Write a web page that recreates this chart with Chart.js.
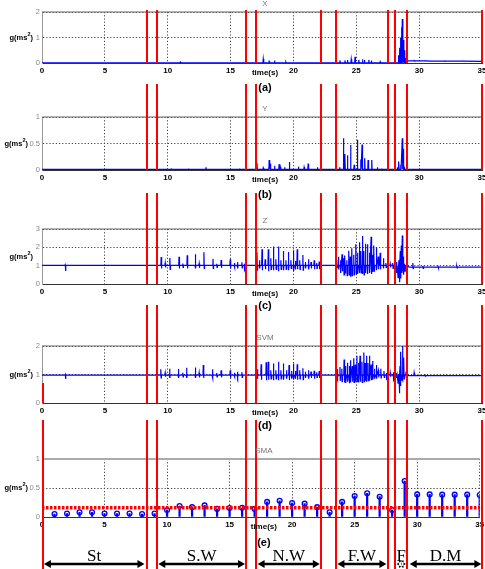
<!DOCTYPE html>
<html>
<head>
<meta charset="utf-8">
<script src="https://cdn.jsdelivr.net/npm/chart.js@4.4.0/dist/chart.umd.min.js"></script>
<style>
  body { margin: 0; background: #fff; width: 485px; height: 569px; overflow: hidden; position: relative; }
  canvas { position: absolute; left: 0; }
  #ov { top: 0; z-index: 10; pointer-events: none; }
</style>
</head>
<body>
<canvas id="pa"></canvas>
<canvas id="pb"></canvas>
<canvas id="pc"></canvas>
<canvas id="pd"></canvas>
<canvas id="pe"></canvas>
<canvas id="ov" width="485" height="569"></canvas>
<script>
// ---- data (time in s) ----

// phase boundaries (red vertical lines)
const boundaries = [8.37, 9.11, 16.26, 17.01, 22.2, 23.4, 27.5, 28.1, 29.0, 35.0]

// phases drawn as arrows under the last panel
const phaseNames = ['St', 'S.W', 'N.W', 'F.W', 'F', 'D.M']
const phaseStart = [0.15, 9.25, 17.15, 23.5, 28.2, 29.25]
const phaseEnd = [8.15, 16.15, 22.1, 27.4, 28.95, 34.95]

// (a) X
const xBase = [[0, 0.01], [28.1, 0.01], [29.0, 0.08], [31.0, 0.07], [35, 0.06]]
const xSpikeT = [11.0, 17.6, 18.07, 18.5, 19.4, 23.7, 24.1, 24.3, 24.6, 24.9, 25.2, 25.5, 25.65, 26.0, 26.2, 26.9,
  28.35, 28.45, 28.52, 28.58, 28.66, 28.74, 28.82, 28.9, 29.6, 30.4, 32.0, 33.5]
const xSpikeV = [0.04, 0.16, 0.06, 0.1, 0.04, 0.1, 0.1, 0.12, 0.15, 0.24, 0.12, 0.15, 0.12, 0.12, 0.1, 0.05,
  0.3, 0.6, 1.0, 1.4, 1.73, 0.9, 0.5, 0.2, 0.1, 0.09, 0.08, 0.08]

// (b) Y
const yBase = [[0, 0.01], [35, 0.01]]
const ySpikeT = [10.28, 11.65, 13.04, 15.7, 17.1, 17.6, 18.07, 18.15, 18.5, 18.86, 18.95, 19.3, 19.68, 20.4, 20.85,
  21.17, 21.9, 23.68, 23.98, 24.1, 24.3, 24.55, 24.83, 25.09, 25.36, 25.46, 25.67, 25.94, 26.23, 26.68, 27.0,
  28.27, 28.38, 28.54, 28.66, 28.72, 28.8]
const ySpikeV = [0.02, 0.03, 0.05, 0.03, 0.13, 0.04, 0.19, 0.12, 0.08, 0.11, 0.06, 0.05, 0.15, 0.06, 0.05,
  0.12, 0.05, 0.05, 0.6, 0.3, 0.28, 0.47, 0.1, 0.57, 0.2, 0.48, 0.22, 0.19, 0.19, 0.05, 0.03,
  0.05, 0.16, 0.1, 0.6, 0.4, 0.05]

// (c) Z
const zBase = [[0, 1.02], [28.1, 1.0], [29.2, 0.92], [35, 0.92]]
const zSpikeT = [1.85,
  9.48, 9.8, 10.17, 10.9, 11.2, 11.55, 12.2, 12.5, 12.88, 13.6, 13.9, 14.25, 14.97, 15.3, 15.55, 15.9, 16.1,
  17.1, 17.3, 17.5, 17.75, 18.0, 18.2, 18.4, 18.6, 18.8, 19.0, 19.2, 19.4, 19.6, 19.8, 20.0, 20.15, 20.3, 20.5,
  20.75, 20.95, 21.2, 21.4, 21.65, 21.85, 22.05,
  23.45, 23.58, 23.75, 23.87, 24.0, 24.1, 24.25, 24.4, 24.52, 24.64, 24.8, 24.96, 25.1, 25.25, 25.37, 25.48,
  25.6, 25.72, 25.88, 26.05, 26.18, 26.3, 26.4, 26.6, 26.75, 26.9, 27.15, 27.35,
  27.7, 27.9,
  28.2, 28.3, 28.4, 28.5, 28.58, 28.66, 28.75, 28.85, 29.0,
  29.5, 30.3, 31.5, 33.0]
const zPeak = [1.05,
  1.47, 1.15, 1.42, 1.49, 1.12, 1.57, 1.62, 1.12, 1.73, 1.37, 1.1, 1.31, 1.35, 1.15, 1.2, 1.18, 1.1,
  1.73, 1.3, 1.9, 1.35, 1.9, 1.4, 2.04, 1.35, 2.04, 1.3, 1.8, 1.3, 1.75, 1.3, 1.84, 1.25, 1.9, 1.3,
  1.58, 1.2, 1.35, 1.2, 1.3, 1.15, 1.22,
  1.31, 1.49, 1.3, 1.62, 1.4, 1.55, 1.3, 1.82, 1.5, 1.95, 1.6, 2.17, 1.7, 2.28, 1.8, 2.62,
  1.8, 2.2, 2.17, 1.7, 2.58, 1.6, 2.1, 2.0, 1.5, 1.7, 1.4, 1.15,
  1.1, 1.15,
  1.2, 1.0, 1.3, 1.8, 2.1, 2.64, 1.5, 1.1, 1.05,
  1.15, 0.98, 0.96, 0.96]
const zDip = [0.71,
  0.85, 0.9, 0.8, 0.85, 0.9, 0.85, 0.85, 0.88, 0.85, 0.85, 0.9, 0.88, 0.85, 0.9, 0.85, 0.88, 0.9,
  0.75, 0.85, 0.75, 0.8, 0.7, 0.8, 0.75, 0.8, 0.7, 0.8, 0.75, 0.8, 0.75, 0.85, 0.7, 0.8, 0.8, 0.8,
  0.75, 0.85, 0.8, 0.85, 0.8, 0.85, 0.8,
  0.9, 0.8, 0.6, 0.7, 0.5, 0.6, 0.45, 0.5, 0.4, 0.45, 0.5, 0.55, 0.55, 0.6, 0.6, 0.55,
  0.5, 0.6, 0.55, 0.6, 0.55, 0.65, 0.7, 0.75, 0.8, 0.8, 0.85, 0.9,
  0.9, 0.85,
  0.6, 0.35, 0.1, 0.3, 0.6, 0.7, 0.5, 0.7, 0.85,
  0.85, 0.85, 0.88, 0.88]

// (d) SVM
const svmBase = [[0, 0.98], [28.1, 0.98], [29.2, 0.96], [35, 0.96]]
const svmSpikeT = [1.85,
  9.45, 9.8, 10.15, 10.85, 11.2, 11.5, 12.2, 12.5, 12.83, 13.55, 13.9, 14.25, 14.97, 15.3, 15.55, 15.9,
  17.13, 17.43, 17.83, 18.0, 18.2, 18.4, 18.6, 18.8, 19.0, 19.2, 19.45, 19.65, 19.85, 20.0, 20.15, 20.3, 20.5,
  20.75, 20.95, 21.2, 21.4, 21.65, 21.85, 22.05,
  23.5, 23.7, 23.85, 24.03, 24.15, 24.3, 24.45, 24.55, 24.68, 24.8, 24.92, 25.05, 25.18, 25.3, 25.45, 25.6,
  25.7, 25.8, 25.93, 26.05, 26.18, 26.3, 26.45, 26.6, 26.75, 26.95, 27.2, 27.4,
  27.7, 27.95,
  28.2, 28.3, 28.4, 28.48, 28.55, 28.68, 28.78, 28.95,
  29.6, 30.5]
const svmPeak = [1.0,
  1.18, 1.06, 1.2, 1.19, 1.06, 1.24, 1.25, 1.06, 1.33, 1.18, 1.05, 1.15, 1.15, 1.06, 1.1, 1.08,
  1.18, 1.36, 1.43, 1.45, 1.15, 1.39, 1.15, 1.45, 1.15, 1.39, 1.15, 1.33, 1.12, 1.39, 1.12, 1.36, 1.15,
  1.22, 1.1, 1.15, 1.1, 1.13, 1.08, 1.12,
  1.18, 1.26, 1.2, 1.53, 1.3, 1.41, 1.3, 1.5, 1.3, 1.57, 1.35, 1.65, 1.4, 1.66, 1.45, 1.77,
  1.4, 1.66, 1.4, 1.66, 1.35, 1.47, 1.2, 1.33, 1.15, 1.2, 1.12, 1.05,
  1.06, 1.08,
  1.05, 0.98, 1.0, 1.3, 1.8, 2.0, 1.6, 1.1,
  1.06, 1.0]
const svmDip = [0.84,
  0.88, 0.92, 0.88, 0.88, 0.92, 0.88, 0.88, 0.9, 0.88, 0.88, 0.92, 0.9, 0.88, 0.92, 0.9, 0.9,
  0.85, 0.82, 0.8, 0.82, 0.85, 0.8, 0.85, 0.8, 0.85, 0.82, 0.85, 0.8, 0.85, 0.82, 0.85, 0.82, 0.85,
  0.82, 0.88, 0.85, 0.88, 0.85, 0.9, 0.88,
  0.9, 0.8, 0.75, 0.72, 0.7, 0.75, 0.69, 0.72, 0.75, 0.72, 0.75, 0.75, 0.72, 0.75, 0.72, 0.75,
  0.78, 0.75, 0.78, 0.78, 0.8, 0.82, 0.85, 0.85, 0.9, 0.88, 0.9, 0.92,
  0.92, 0.9,
  0.88, 0.7, 0.34, 0.6, 0.8, 0.9, 0.85, 0.9,
  0.94, 0.95]

// (e) SMA, one value per second
const smaT = [1, 2, 3, 4, 5, 6, 7, 8, 9, 10, 11, 12, 13, 14, 15, 16, 17, 18, 19, 20, 21, 22, 23, 24, 25, 26, 27,
  28, 29, 30, 31, 32, 33, 34, 35]
const smaV = [0.05, 0.06, 0.08, 0.08, 0.06, 0.06, 0.06, 0.05, 0.06, 0.12, 0.19, 0.17, 0.2, 0.14, 0.155, 0.16,
  0.14, 0.26, 0.28, 0.24, 0.23, 0.17, 0.08, 0.26, 0.36, 0.41, 0.35, 0.12, 0.62, 0.39, 0.39, 0.385, 0.385,
  0.385, 0.38]
const smaThreshold = 0.16

// ---- helpers ----
const SANS = '"Liberation Sans", Arial, sans-serif'
const BLUE = '#0000ff'
const W = 0.025

// polyline through the baseline, with each read spike as base -> peak -> dip -> base
function trace(base, times, peaks, dips) {
  const baseAt = t => {
    let v = base[0][1]
    base.forEach(([bx, by]) => { if (bx <= t) v = by })
    return v
  }
  const pts = base.map(([x, y]) => ({ x, y }))
  times.forEach((t, i) => {
    const b = baseAt(t)
    pts.push({ x: t - W, y: b }, { x: t, y: peaks[i] }, { x: t + W, y: dips ? dips[i] : b }, { x: t + 2 * W, y: b })
  })
  return pts.sort((p, q) => p.x - q.x)
}

const lineSet = data => ({
  data, showLine: true, borderColor: BLUE, borderWidth: 1.2, pointRadius: 0, tension: 0
})

const frame = {
  id: 'frame',
  beforeDatasetsDraw(c, args, o) {
    const { ctx, chartArea: a } = c
    ctx.save()
    ctx.strokeStyle = o.color
    ctx.lineWidth = o.width
    ctx.beginPath()
    ctx.moveTo(a.left, a.top)
    ctx.lineTo(a.right, a.top)
    ctx.stroke()
    ctx.restore()
  }
}

// panel layout (page pixels)
const panels = [
  { id: 'pa', top: 12, bottom: 63, max: 2, step: 1, title: 'X', tag: '(a)', tagDy: 25, red: [10, 63],
    frameColor: '#666', frameWidth: 1,
    datasets: [lineSet(trace(xBase, xSpikeT, xSpikeV))] },
  { id: 'pb', top: 117, bottom: 170, max: 1, step: 0.5, title: 'Y', tag: '(b)', tagDy: 25, red: [84, 170],
    frameColor: '#666', frameWidth: 1,
    datasets: [lineSet(trace(yBase, ySpikeT, ySpikeV))] },
  { id: 'pc', top: 229, bottom: 284, max: 3, step: 1, title: 'Z', tag: '(c)', tagDy: 22, red: [193, 284],
    frameColor: '#666', frameWidth: 1,
    datasets: [lineSet(trace(zBase, zSpikeT, zPeak, zDip))] },
  { id: 'pd', top: 346, bottom: 403, max: 2, step: 1, title: 'SVM', tag: '(d)', tagDy: 23, red: [305, 403],
    frameColor: '#666', frameWidth: 1,
    datasets: [lineSet(trace(svmBase, svmSpikeT, svmPeak, svmDip))] },
  { id: 'pe', top: 459, bottom: 517, max: 1, step: 0.5, title: 'SMA', tag: '(e)', tagDy: 26, red: [420, 569],
    frameColor: '#aaa', frameWidth: 2,
    datasets: [
      { data: [{ x: 0, y: smaThreshold }, { x: 35, y: smaThreshold }], showLine: true, borderColor: '#ff0000',
        borderWidth: 3.5, borderDash: [2.5, 1.5], pointRadius: 0 },
      { data: smaT.map((t, i) => ({ x: t, y: smaV[i] })), pointRadius: 2.4, pointBorderWidth: 1.3,
        pointBorderColor: BLUE, pointBackgroundColor: 'rgba(0,0,0,0)' },
      { type: 'bar', data: smaT.map((t, i) => ({ x: t, y: smaV[i] })), backgroundColor: BLUE,
        barThickness: 1.6, grouped: false }
    ] }
]

const PAD_TOP = 12
const X_AXIS_H = 14

function makePanel(p) {
  const cv = document.getElementById(p.id)
  cv.width = 485
  cv.height = p.bottom - p.top + PAD_TOP + X_AXIS_H
  cv.style.top = (p.top - PAD_TOP) + 'px'
  return new Chart(cv, {
    type: 'scatter',
    data: { datasets: p.datasets },
    options: {
      responsive: false,
      animation: false,
      events: [],
      layout: { padding: { top: PAD_TOP, right: 3, left: 0, bottom: 0 } },
      plugins: {
        legend: { display: false },
        tooltip: { enabled: false },
        frame: { color: p.frameColor, width: p.frameWidth }
      },
      scales: {
        x: {
          type: 'linear', min: 0, max: 35, offset: false,
          ticks: { stepSize: 5, autoSkip: false, maxRotation: 0, padding: 3, color: '#000',
            font: { family: SANS, size: 8, weight: 'bold' } },
          grid: { color: '#444', drawTicks: false, offset: false },
          border: { display: true, color: '#333', width: 1, dash: [1.2, 2] },
          afterFit(s) { s.height = X_AXIS_H; s.paddingLeft = 0; s.paddingRight = 0 }
        },
        y: {
          min: 0, max: p.max,
          ticks: { stepSize: p.step, padding: 2, color: '#888', font: { family: SANS, size: 7.5 },
            callback: v => String(Math.round(v * 10) / 10) },
          grid: { color: '#444', drawTicks: false },
          border: { display: true, color: '#999', width: 1, dash: [1.2, 2] },
          afterFit(s) { s.width = 42 }
        }
      }
    },
    plugins: [frame]
  })
}

const charts = panels.map(makePanel)

// ---- overlay: red phase lines, labels, phase arrows ----
const ov = document.getElementById('ov').getContext('2d')
const xs = charts[0].scales.x
const px = t => xs.getPixelForValue(t)

panels.forEach((p, i) => {
  const a = charts[i].chartArea
  const top = p.top - PAD_TOP
  const cx = (a.left + a.right) / 2 + 3

  // red phase boundaries
  ov.strokeStyle = '#ff0000'
  ov.lineWidth = 2
  boundaries.forEach(t => {
    ov.beginPath()
    ov.moveTo(Math.round(px(t)), p.red[0])
    ov.lineTo(Math.round(px(t)), p.red[1])
    ov.stroke()
  })

  // title
  ov.fillStyle = '#777'
  ov.font = '8px ' + SANS
  ov.textAlign = 'center'
  ov.textBaseline = 'middle'
  ov.fillText(p.title, cx, top + a.top - 8)

  // x label and panel tag
  ov.fillStyle = '#000'
  ov.font = 'bold 8px ' + SANS
  ov.fillText('time(s)', cx, top + a.bottom + 10)
  ov.font = 'bold 11px ' + SANS
  ov.fillText(p.tag, cx, top + a.bottom + p.tagDy)

  // y label g(ms^2), ending just left of the tick labels
  const yc = top + (a.top + a.bottom) / 2
  ov.font = 'bold 7.5px ' + SANS
  const w1 = ov.measureText('g(ms').width
  const w3 = ov.measureText(')').width
  ov.font = 'bold 5.5px ' + SANS
  const w2 = ov.measureText('2').width
  const right = p.step < 1 ? 28 : 33
  let x = right - (w1 + w2 + w3)
  ov.textAlign = 'left'
  ov.font = 'bold 7.5px ' + SANS
  ov.fillText('g(ms', x, yc)
  x += w1
  ov.font = 'bold 5.5px ' + SANS
  ov.fillText('2', x, yc - 3.5)
  x += w2
  ov.font = 'bold 7.5px ' + SANS
  ov.fillText(')', x, yc)
})

// red line at t = 0 in the lower panels
ov.strokeStyle = '#ff0000'
ov.lineWidth = 2
const y0d = charts[3].scales.y
ov.beginPath()
ov.moveTo(Math.round(px(0)) + 1, panels[3].top - PAD_TOP + y0d.getPixelForValue(0.7))
ov.lineTo(Math.round(px(0)) + 1, panels[3].bottom)
ov.moveTo(Math.round(px(0)) + 1, panels[4].red[0])
ov.lineTo(Math.round(px(0)) + 1, panels[4].red[1])
ov.stroke()

// phase arrows
const AY = 564
function arrow(x1, x2) {
  ov.fillStyle = '#000'
  ov.strokeStyle = '#000'
  ov.lineWidth = 2.6
  ov.beginPath()
  ov.moveTo(x1 + 5, AY)
  ov.lineTo(x2 - 5, AY)
  ov.stroke()
  ov.beginPath()
  ov.moveTo(x1, AY); ov.lineTo(x1 + 7, AY - 4); ov.lineTo(x1 + 7, AY + 4); ov.closePath()
  ov.moveTo(x2, AY); ov.lineTo(x2 - 7, AY - 4); ov.lineTo(x2 - 7, AY + 4); ov.closePath()
  ov.fill()
}
phaseNames.forEach((name, i) => {
  const x1 = px(phaseStart[i])
  const x2 = px(phaseEnd[i])
  arrow(x1, x2)
  ov.fillStyle = '#000'
  ov.font = '17px "Liberation Serif", "Times New Roman", serif'
  ov.textAlign = 'center'
  ov.textBaseline = 'alphabetic'
  ov.fillText(name, (x1 + x2) / 2, 561)
})
</script>
</body>
</html>
